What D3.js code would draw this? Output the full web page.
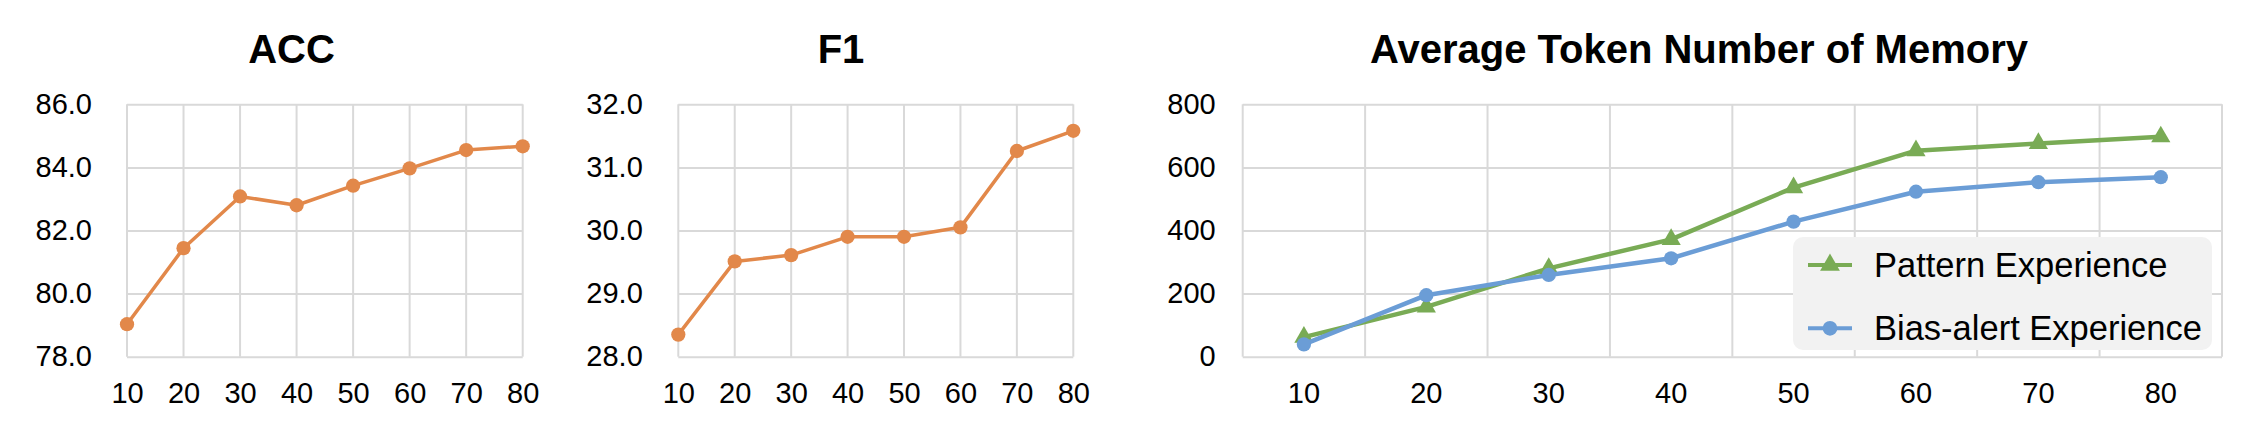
<!DOCTYPE html>
<html>
<head>
<meta charset="utf-8">
<script src="https://cdn.jsdelivr.net/npm/d3@7"></script>
<style>
  body { margin: 0; background: #fff; }
  text { font-family: "Liberation Sans", Arial, sans-serif; }
</style>
</head>
<body>
<div id="chart"></div>
<script>
// data
var steps = ["10", "20", "30", "40", "50", "60", "70", "80"];
var accValues = [79.03, 81.44, 83.08, 82.80, 83.42, 83.97, 84.55, 84.67];
var f1Values = [28.35, 29.51, 29.61, 29.90, 29.90, 30.05, 31.26, 31.58];
var patternValues = [62, 158, 280, 372, 536, 653, 676, 697];
var biasValues = [39, 195, 259, 312, 428, 523, 553, 569];
var accTicks = [78, 80, 82, 84, 86];
var f1Ticks = [28, 29, 30, 31, 32];
var tokenTicks = [0, 200, 400, 600, 800];
var seriesNames = ["Pattern Experience", "Bias-alert Experience"];

var orange = "#E2884A", green = "#79AB55", blue = "#6B9DD6", grid = "#D9D9D9";
var top_ = 104.3, bottom = 356.7;

var svg = d3.select("#chart").append("svg")
    .attr("width", 2248)
    .attr("height", 438)

function panel(opts) {
    var g = svg.append("g")
    var y = d3.scaleLinear().domain(opts.domain).range([bottom, top_])
    var x
    if (opts.band) {
        x = d3.scaleBand().domain(steps).range([opts.left, opts.right])
    } else {
        x = d3.scalePoint().domain(steps).range([opts.left, opts.right])
    }
    var xc = function(d) { return opts.band ? x(d) + x.bandwidth() / 2 : x(d) }

    // horizontal grid
    g.append("g")
        .attr("transform", "translate(" + opts.left + ",0)")
        .call(d3.axisLeft(y).tickValues(opts.ticks).tickSize(-(opts.right - opts.left)).tickFormat(""))
        .call(function(s) { s.select(".domain").remove() })
        .selectAll("line").attr("stroke", grid).attr("stroke-width", 2)

    // vertical grid
    var vx = opts.band ? steps.map(function(d) { return x(d) }).concat([opts.right]) : steps.map(function(d) { return x(d) })
    g.selectAll(".vg")
        .data(vx)
        .enter()
        .append("line")
        .attr("x1", function(d) { return d })
        .attr("x2", function(d) { return d })
        .attr("y1", top_)
        .attr("y2", bottom)
        .attr("stroke", grid)
        .attr("stroke-width", 2)

    // y labels
    var ya = g.append("g")
        .attr("transform", "translate(" + opts.left + ",0)")
        .call(d3.axisLeft(y).tickValues(opts.ticks).tickSize(0).tickPadding(opts.pad).tickFormat(opts.fmt))
    ya.select(".domain").remove()
    ya.selectAll("text").style("font-size", "29px").style("font-family", "Liberation Sans, Arial, sans-serif").attr("fill", "#000")

    // x labels
    var xa = g.append("g")
        .attr("transform", "translate(0," + bottom + ")")
        .call(d3.axisBottom(x).tickSize(0).tickPadding(26))
    xa.select(".domain").remove()
    if (opts.band) xa.selectAll(".tick").attr("transform", function(d) { return "translate(" + xc(d) + ",0)" })
    xa.selectAll("text").style("font-size", "29px").style("font-family", "Liberation Sans, Arial, sans-serif").attr("fill", "#000")

    // title
    g.append("text")
        .attr("x", opts.titleX)
        .attr("y", 63)
        .attr("text-anchor", "middle")
        .style("font-size", "40px")
        .style("font-weight", "bold")
        .text(opts.title)

    return { g: g, x: xc, y: y }
}

function drawLine(p, values, color, width, marker, size) {
    var line = d3.line()
        .x(function(d, i) { return p.x(steps[i]) })
        .y(function(d) { return p.y(d) })
    p.g.append("path")
        .datum(values)
        .attr("d", line)
        .attr("fill", "none")
        .attr("stroke", color)
        .attr("stroke-width", width)
        .attr("stroke-linejoin", "round")
    p.g.selectAll(null)
        .data(values)
        .enter()
        .append("path")
        .attr("transform", function(d, i) { return "translate(" + p.x(steps[i]) + "," + p.y(d) + ")" })
        .attr("d", d3.symbol().type(marker).size(size))
        .attr("fill", color)
}

var acc = panel({ left: 127, right: 522.7, domain: [78, 86], ticks: accTicks, pad: 35, fmt: d3.format(".1f"), title: "ACC", titleX: 291.5 })
drawLine(acc, accValues, orange, 3.5, d3.symbolCircle, 160)

var f1 = panel({ left: 678.3, right: 1073.3, domain: [28, 32], ticks: f1Ticks, pad: 35.5, fmt: d3.format(".1f"), title: "F1", titleX: 841 })
drawLine(f1, f1Values, orange, 3.5, d3.symbolCircle, 160)

var tok = panel({ left: 1242.7, right: 2222, domain: [0, 800], ticks: tokenTicks, pad: 27, fmt: d3.format("d"), title: "Average Token Number of Memory", titleX: 1699, band: true })
drawLine(tok, patternValues, green, 4.5, d3.symbolTriangle, 160)
drawLine(tok, biasValues, blue, 4.5, d3.symbolCircle, 160)

// legend
var legend = tok.g.append("g")
legend.append("rect")
    .attr("x", 1793)
    .attr("y", 237)
    .attr("width", 419)
    .attr("height", 113)
    .attr("rx", 10)
    .attr("fill", "#F2F2F2")

var legColors = [green, blue];
var legMarkers = [d3.symbolTriangle, d3.symbolCircle];
var rows = legend.selectAll(".row")
    .data(seriesNames)
    .enter()
    .append("g")
    .attr("transform", function(d, i) { return "translate(0," + (265 + i * 63.3) + ")" })
rows.append("line")
    .attr("x1", 1808)
    .attr("x2", 1852)
    .attr("stroke", function(d, i) { return legColors[i] })
    .attr("stroke-width", 4)
rows.append("path")
    .attr("transform", "translate(1830,0)")
    .attr("d", function(d, i) { return d3.symbol().type(legMarkers[i]).size(170)() })
    .attr("fill", function(d, i) { return legColors[i] })
rows.append("text")
    .attr("x", 1874)
    .attr("dy", "0.35em")
    .style("font-size", "34.5px")
    .text(function(d) { return d })
</script>
</body>
</html>
